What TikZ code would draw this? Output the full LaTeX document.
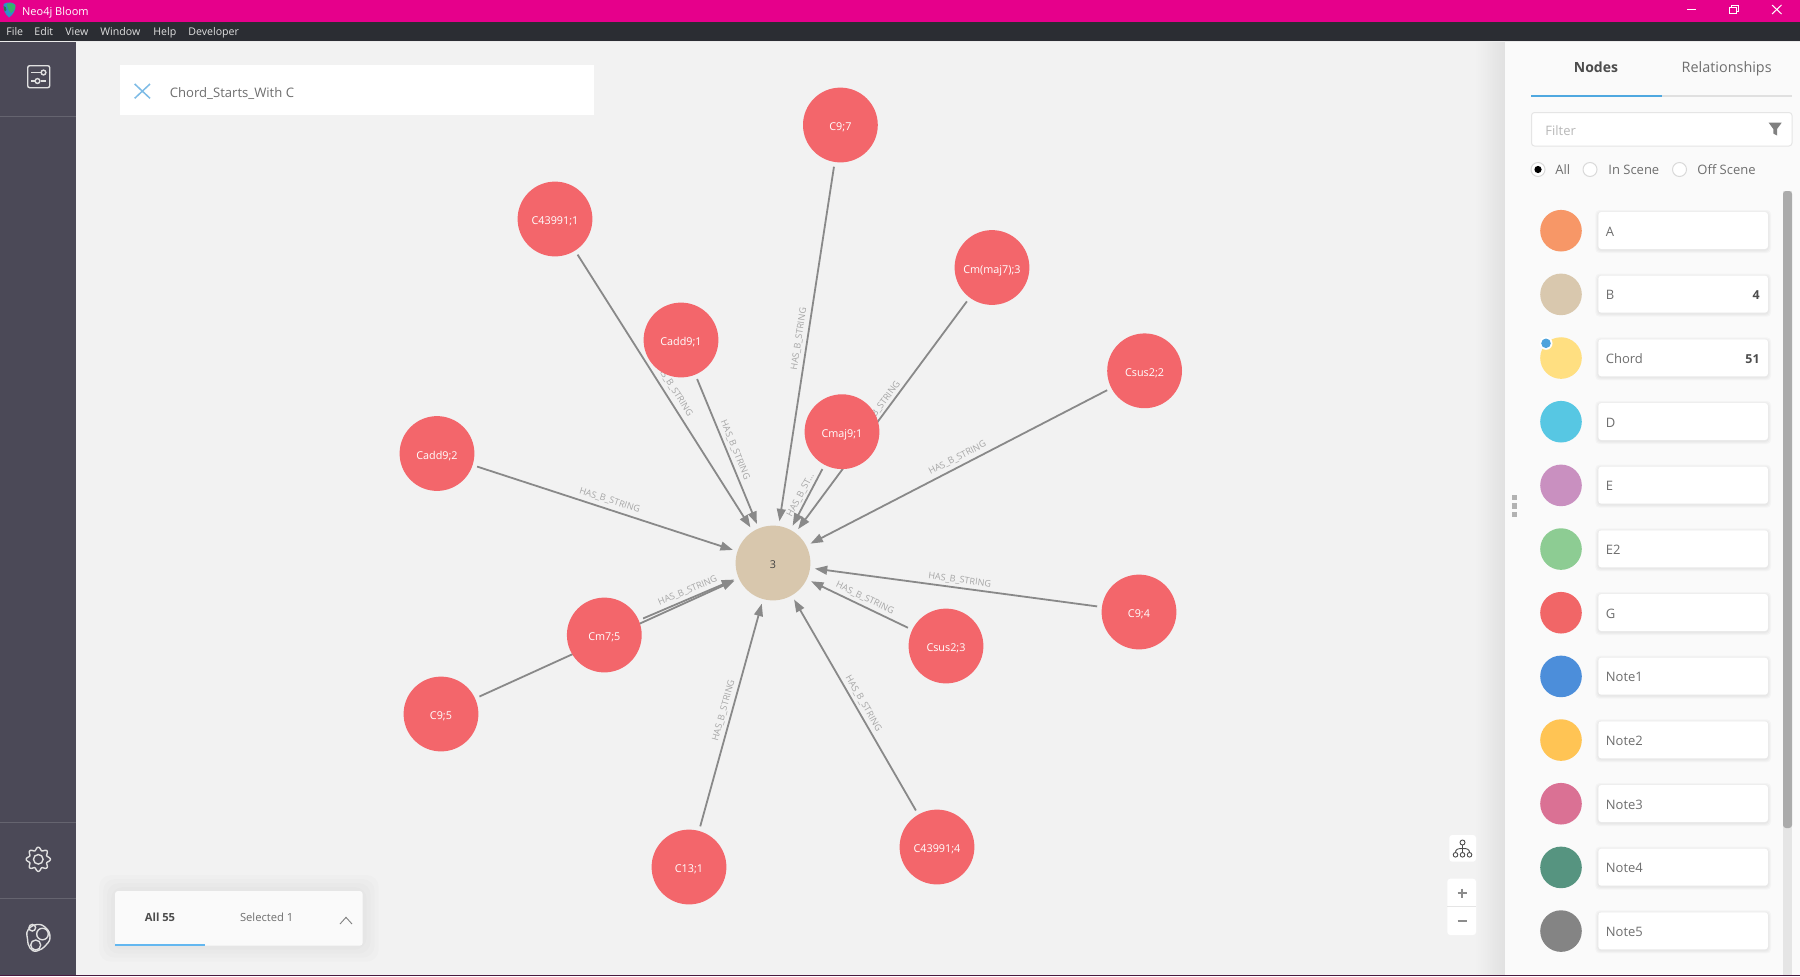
\documentclass[tikz,border=0pt]{standalone}
\usepackage{fontspec}
\setmainfont{Open Sans}
\usetikzlibrary{arrows.meta,calc}
\pgfdeclarelayer{basefill}
\pgfdeclarelayer{edgelayer}
\pgfsetlayers{basefill,edgelayer,main}
\definecolor{magbar}{HTML}{E6008B}
\definecolor{menubar}{HTML}{2B2D33}
\definecolor{sidebar}{HTML}{4B4957}
\definecolor{sideline}{HTML}{65646F}
\definecolor{canvas}{HTML}{F2F2F2}
\definecolor{panel}{HTML}{FAFAFA}
\definecolor{chordred}{HTML}{F3666B}
\definecolor{bnode}{HTML}{D8C7AD}
\definecolor{edgegray}{HTML}{898989}
\definecolor{labgray}{HTML}{A6A6A6}
\definecolor{txtgray}{HTML}{6E6E6E}
\definecolor{blueline}{HTML}{4FA8E0}
\definecolor{closeblue}{HTML}{7DBBE6}
\definecolor{tabblue}{HTML}{63B7F0}
\definecolor{dotblue}{HTML}{4FA3DC}
\definecolor{bottomline}{HTML}{4A1A40}
\definecolor{logogreen}{HTML}{35B36B}
\definecolor{logoblue}{HTML}{2F8FC9}
\tikzset{
  x=0.5pt,y=-0.5pt,
  fs/.style={font=\fontsize{#1}{#1}\selectfont},
  note/.style={circle,fill=chordred,draw=none,inner sep=0pt,minimum size=37.4pt,outer sep=2.4pt,text=white,fs=5.4,text height=5.6pt,text depth=0pt},
  hub/.style={circle,fill=bnode,draw=none,inner sep=0pt,minimum size=37.4pt,outer sep=2.4pt,text=black!75,fs=5.4,text height=5.6pt,text depth=0pt},
  rel/.style={-{Triangle[length=6.2pt,width=4.4pt]},draw=edgegray,line width=0.9pt},
  rellab/.style={text=labgray,fs=4.55,inner sep=0pt},
  legdot/.style={circle,draw=none,inner sep=0pt,minimum size=20.8pt},
  legbox/.style={rounded corners=1.5pt,fill=white},
  legtxt/.style={anchor=mid west,inner sep=0pt,text=txtgray,fs=6.5},
  legnum/.style={anchor=mid east,inner sep=0pt,text=black!70,font=\fontsize{6.2}{6.2}\selectfont\bfseries},
  menu/.style={anchor=mid west,inner sep=0pt,text=white!88!black,fs=5.3},
  uimid/.style={anchor=mid,inner sep=0pt},
  uiwest/.style={anchor=mid west,inner sep=0pt},
  icon/.style={draw=white!88!black,line width=0.7pt,fill=none},
}
\begin{document}
\begin{tikzpicture}
\useasboundingbox (0,0) rectangle (1800,976);
\begin{pgfonlayer}{basefill}
\fill[canvas] (0,0) rectangle (1800,976);
\fill[left color=canvas,right color=black!12] (1475,41) rectangle (1505,975);
\fill[panel] (1505,41) rectangle (1800,975);
\fill[sidebar] (0,41) rectangle (76,975);
\fill[magbar] (0,0) rectangle (1800,21.7);
\fill[menubar] (0,21.7) rectangle (1800,40.7);
\fill[black!8] (0,40.7) rectangle (1800,41.2);
\fill[bottomline] (0,975) rectangle (1800,976);
\end{pgfonlayer}
\foreach \y in {116,822.3,898.3} \draw[sideline,line width=0.5pt] (0,\y) -- (76,\y);
% ---- title bar
\fill[logoblue] (3.5,4) .. controls (8,1.5) and (13,2) .. (15.5,5) .. controls (16,10) and (13,15) .. (9,17.5) .. controls (5,14.5) and (3,9) .. (3.5,4) -- cycle;
\fill[logogreen] (7,3.5) .. controls (10,2.5) and (13.5,3) .. (15.3,5.5) .. controls (15.5,9) and (13,12) .. (11,13) .. controls (8.5,11) and (7,7) .. (7,3.5) -- cycle;
\fill[logogreen!70!black] (3.6,6) .. controls (5.5,6) and (6.5,8) .. (6.5,10) .. controls (5.5,11) and (5,11.5) .. (4.8,11.5) .. controls (4,10) and (3.6,8) .. (3.6,6) -- cycle;
\node[menu,fs=5.5,text=white] (apptitle) at (21.8,10) {Neo4j Bloom};
\draw[white,line width=0.45pt] (1687,9.3) -- (1696,9.3);
\draw[white,line width=0.45pt] (1729,7.5) rectangle (1736.5,13.5);
\draw[white,line width=0.45pt] (1731.5,7.5) -- (1731.5,5) -- (1738,5) -- (1738,11) -- (1736.5,11);
\draw[white,line width=0.5pt] (1772,5) -- (1781.5,14) (1781.5,5) -- (1772,14);
\node[menu] (mfile) at (6,30) {File};
\node[menu] (medit) at (34,30) {Edit};
\node[menu] (mview) at (65,30) {View};
\node[menu] (mwindow) at (100,30) {Window};
\node[menu] (mhelp) at (153,30) {Help};
\node[menu] (mdev) at (188,30) {Developer};
% ---- sidebar icons
\draw[icon,rounded corners=1pt] (27.7,65.7) rectangle (49.7,87.7);
\draw[icon] (31,72.5) -- (41,72.5) (31,81) -- (34.5,81) (40.5,81) -- (46,81);
\draw[icon] (43.5,72.5) circle (2.4);
\draw[icon] (37.5,81) circle (2.4);
\draw[icon,line join=round] plot[domain=0:360,samples=145,smooth] ({38.3+(10.6+1.5*cos(8*\x))*cos(\x)},{859.3+(10.6+1.5*cos(8*\x))*sin(\x)}) -- cycle;
\draw[icon] (38.3,859.3) circle (4.8);
\draw[icon] plot[smooth cycle,tension=0.8] coordinates {(28,930) (37,924.5) (46,928) (50,937) (46,945) (37,951) (30,948) (27.5,939)};
\draw[icon] (42.5,934) circle (5.8);
\draw[icon] (32.3,927.7) circle (3.3);
\draw[icon] (35.7,945) circle (5);
% ---- search box
\fill[black!5] (119,64) rectangle (595,116.5);
\fill[white] (120,65) rectangle (594,115.3);
\draw[closeblue,line width=0.75pt] (134.7,84) -- (150,98.3) (150,84) -- (134.7,98.3);
\node[uiwest,text=txtgray,fs=6.55] (searchtxt) at (169.5,92) {Chord\_Starts\_With C};
% ---- graph nodes
\node[hub]  (hubB)   at (773,563)     {3};
\node[note] (c97)    at (840.4,125)   {C9;7};
\node[note] (c439a)  at (555,219)     {C43991;1};
\node[note] (cmm3)   at (992,267.5)   {Cm(maj7);3};
\node[note] (cadd91) at (681,340)     {Cadd9;1};
\node[note] (csus22) at (1144.6,370.8){Csus2;2};
\node[note] (cmaj91) at (842,431.7)   {Cmaj9;1};
\node[note] (cadd92) at (437,453.5)   {Cadd9;2};
\node[note] (cm75)   at (604.3,635)   {Cm7;5};
\node[note] (c94)    at (1139,612)    {C9;4};
\node[note] (csus23) at (946,646)     {Csus2;3};
\node[note] (c95)    at (441,714)     {C9;5};
\node[note] (c131)   at (689,867)     {C13;1};
\node[note] (c439b)  at (937,847)     {C43991;4};
% ---- connectors and their labels, under the nodes
\begin{pgfonlayer}{edgelayer}
\foreach \n in {c97,c439a,cmm3,cadd91,csus22,cmaj91,cadd92,cm75,c94,csus23,c95,c131,c439b}
  \draw[rel] (\n) -- (hubB);
\node[rellab,rotate=81.3]  (l1)  at (799,339)     {HAS\_B\_STRING};
\node[rellab,rotate=-57.6] (l2)  at (673.4,388.8) {HAS\_B\_STRING};
\node[rellab,rotate=53.5]  (l3)  at (879.6,408)   {HAS\_B\_STRING};
\node[rellab,rotate=-67.6] (l4)  at (735,450)     {HAS\_B\_STRING};
\node[rellab,rotate=62.2]  (l5)  at (800.7,495)   {HAS\_B\_ST...};
\node[rellab,rotate=27.3]  (l6)  at (957.5,458)   {HAS\_B\_STRING};
\node[rellab,rotate=-18]   (l7)  at (609.6,500.5) {HAS\_B\_STRING};
\node[rellab,rotate=23]    (l8)  at (687.7,590.7) {HAS\_B\_STRING};
\node[rellab,rotate=-7.6]  (l9)  at (959.7,580.3) {HAS\_B\_STRING};
\node[rellab,rotate=-25.6] (l10) at (865,598.3)   {HAS\_B\_STRING};
\node[rellab,rotate=74.5]  (l11) at (723.7,710.7) {HAS\_B\_STRING};
\node[rellab,rotate=-60]   (l12) at (863.3,703.3) {HAS\_B\_STRING};
\end{pgfonlayer}
% ---- bottom panel
\foreach \g in {16,12,8,4} \fill[black,opacity=0.012,rounded corners=6pt] (115-\g,891-\g) rectangle (362.7+\g,945.7+\g);
\fill[white!98!black,rounded corners=1.5pt] (115,891) rectangle (362.7,945.7);
\fill[tabblue] (115,944) rectangle (205,946);
\node[uimid,text=black!70,font=\fontsize{5.6}{5.6}\selectfont\bfseries] (allcount) at (160,915.7) {All 55};
\node[uimid,text=txtgray,fs=5.6] (selcount) at (266.7,915.7) {Selected 1};
\draw[black!50,line width=0.45pt] (340,924) -- (346,917.3) -- (352,924);
% ---- graph controls
\fill[black!5,rounded corners=1.5pt] (1448.3,834) rectangle (1477,862.7);
\fill[white,rounded corners=1.5pt] (1449.3,835) rectangle (1476,861.7);
\fill[black!5,rounded corners=1.5pt] (1446.3,877.7) rectangle (1477,936);
\fill[white,rounded corners=1.5pt] (1447.3,878.7) rectangle (1476,935);
\draw[black!10,line width=0.4pt] (1447.3,906.7) -- (1476,906.7);
\draw[black!70,line width=0.45pt] (1462.5,842.5) circle (2.5);
\draw[black!70,line width=0.45pt] (1462.5,845) -- (1462.5,852.5) (1455.5,852.5) .. controls (1455.5,849) and (1458,848.5) .. (1462.5,848.5) .. controls (1467,848.5) and (1469.5,849) .. (1469.5,852.5);
\foreach \x in {1455.5,1462.5,1469.5} \draw[black!70,line width=0.45pt] (\x,854.8) circle (2.3);
\draw[black!45,line width=0.6pt] (1457.5,893) -- (1466.5,893) (1462,888.5) -- (1462,897.5) (1457.5,921) -- (1466.5,921);
% ---- drag handle
\foreach \y in {497.4,505.8,514.5} \fill[black!30] (1512,\y-2.7) rectangle (1517,\y+2.7);
% ---- right panel header
\node[uimid,text=black!70,font=\fontsize{7}{7}\selectfont\bfseries] (tabnodes) at (1596,67) {Nodes};
\node[uimid,text=txtgray,fs=7.2] (tabrels) at (1726.7,67) {Relationships};
\fill[black!12] (1662,94.7) rectangle (1792,96.7);
\fill[blueline] (1531,94.7) rectangle (1662,96.7);
\draw[black!10,fill=white,rounded corners=1.5pt,line width=0.5pt] (1531.5,112.5) rectangle (1792,146);
\node[uiwest,text=black!28,fs=6.5] (filtertxt) at (1545,130) {Filter};
\fill[black!50] (1768.7,122.7) -- (1781.7,122.7) -- (1777,129) -- (1777,135.5) -- (1773.3,133.5) -- (1773.3,129) -- cycle;
\draw[black!15,fill=white,line width=0.5pt] (1538,169.5) circle (7);
\fill[black] (1538,169.5) circle (3.6);
\draw[black!15,fill=white,line width=0.5pt] (1590,169.5) circle (7);
\draw[black!15,fill=white,line width=0.5pt] (1679.5,169.5) circle (7);
\node[legtxt] (radall) at (1555,169) {All};
\node[legtxt] (radin) at (1608,169) {In Scene};
\node[legtxt] (radoff) at (1697,169) {Off Scene};
% ---- scrollbar
\fill[black!10] (1783,191) rectangle (1792,975);
\fill[black!33,rounded corners=1.5pt] (1783,191) rectangle (1792,828);
% ---- legend
\foreach \i/\lab/\col in {
  0/A/F79767,1/B/D9C8AE,2/Chord/FFDF81,3/D/57C7E3,4/E/C990C0,5/E2/8DCC93,
  6/G/F16667,7/Note1/4C8EDA,8/Note2/FFC454,9/Note3/DA7194,10/Note4/569480,11/Note5/848484}{
  \pgfmathsetmacro\yy{230.7+63.67*\i}
  \definecolor{tmpc}{HTML}{\col}
  \node[legdot,fill=tmpc] (dot\i) at (1561,\yy) {};
  \foreach \g in {3,2,1} \fill[black,opacity=0.025,rounded corners=2pt] (1598.3-\g,\yy-18.7-\g+1) rectangle (1768+\g,\yy+18.3+\g+1);
  \fill[legbox] (1598.3,\yy-18.7) rectangle (1768,\yy+18.3);
  \node[legtxt] (leg\i) at (1605.5,\yy) {\lab};
}
\node[legnum] (numB) at (1760,294.3) {4};
\node[legnum] (numC) at (1760,358) {51};
\fill[white] (1546,343.3) circle (6.5);
\fill[dotblue] (1546,343.3) circle (4.8);
\end{tikzpicture}
\end{document}
